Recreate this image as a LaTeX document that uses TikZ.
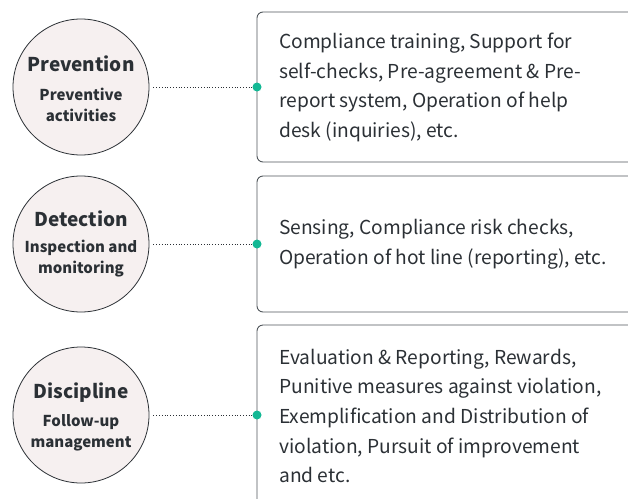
\documentclass[tikz,border=0pt]{standalone}
\usepackage{fontspec}
\setmainfont{Noto Sans CJK KR}
\definecolor{circfill}{HTML}{F6F0F0}
\definecolor{txt}{HTML}{2B3035}
\definecolor{boxline}{HTML}{50565B}
\definecolor{teal}{HTML}{12B894}
\begin{document}
\begin{tikzpicture}[x=1pt,y=-1pt,
  phase/.style={circle,draw=txt,line width=0.8pt,fill=circfill,minimum size=136pt,inner sep=0pt,text=txt,align=center},
  panel/.style={draw=boxline,line width=0.9pt,rounded corners=6pt},
  link/.style={draw=txt,line width=0.8pt,dotted},
  knob/.style={circle,fill=teal,minimum size=9pt,inner sep=0pt},
  desc/.style={anchor=west,align=left,text=txt,font=\fontsize{19.2}{29.6}\selectfont,inner sep=0pt},
  ttl/.style={text=txt,font=\fontsize{19}{22}\bfseries\selectfont},
  sub/.style={text=txt,align=center,font=\fontsize{15}{21}\bfseries\selectfont}]
\clip (0,0) rectangle (628,498);
% panels
\draw[panel] (257,12) rectangle (660,162);
\draw[panel] (257,176) rectangle (660,312);
\draw[panel] (257,325) rectangle (660,540);
% circles
\node[phase] (c1) at (81,87) {};
\node[phase] (c2) at (81,244) {};
\node[phase] (c3) at (81,415) {};
\node[ttl] (t1) at (81,64) {Prevention};
\node[sub] (s1) at (81,105) {Preventive\\activities};
\node[ttl] (t2) at (81,219) {Detection};
\node[sub] (s2) at (81,259) {Inspection and\\monitoring};
\node[ttl] (t3) at (81,393) {Discipline};
\node[sub] (s3) at (81,433) {Follow-up\\management};
% knobs
\node[knob] (k1) at (257,87) {};
\node[knob] (k2) at (257,244) {};
\node[knob] (k3) at (257,415) {};
\draw[link] (c1.east) ++(4,0) coordinate (e1) -- (k1);
\draw[link] (c2.east) ++(4,0) coordinate (e2) -- (k2);
\draw[link] (c3.east) ++(4,0) coordinate (e3) -- (k3);
% descriptions
\node[desc] (d1) at (279,87.5) {Compliance training, Support for\\self-checks, Pre-agreement \& Pre-\\report system, Operation of help\\desk (inquiries), etc.};
\node[desc] (d2) at (279,244) {Sensing, Compliance risk checks,\\Operation of hot line (reporting), etc.};
\node[desc] (d3) at (279,416) {Evaluation \& Reporting, Rewards,\\Punitive measures against violation,\\Exemplification and Distribution of\\violation, Pursuit of improvement\\and etc.};
\end{tikzpicture}
\end{document}
